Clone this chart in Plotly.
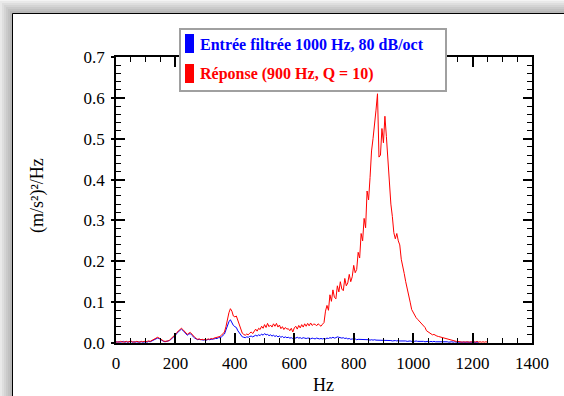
import numpy as np
import plotly.graph_objects as go

# Spectral density, sampled every 5 Hz
STEP_HZ = 5

reponse_900hz = [
    0.002, 0.003, 0.002, 0.004, 0.003, 0.002, 0.003, 0.004, 0.002, 0.003,
    0.005, 0.003, 0.002, 0.003, 0.004, 0.003, 0.002, 0.004, 0.003, 0.004,
    0.003, 0.004, 0.005, 0.004, 0.006, 0.008, 0.011, 0.013, 0.014, 0.012,
    0.009, 0.006, 0.005, 0.004, 0.004, 0.005, 0.007, 0.010, 0.013, 0.018,
    0.021, 0.026, 0.030, 0.034, 0.036, 0.033, 0.029, 0.024, 0.021, 0.024,
    0.026, 0.022, 0.017, 0.014, 0.011, 0.009, 0.010, 0.008, 0.009, 0.008,
    0.009, 0.008, 0.010, 0.009, 0.011, 0.010, 0.012, 0.013, 0.014, 0.016,
    0.016, 0.019, 0.022, 0.027, 0.040, 0.058, 0.074, 0.084, 0.078, 0.066,
    0.064, 0.066, 0.055, 0.044, 0.032, 0.024, 0.021, 0.019, 0.022, 0.020,
    0.024, 0.027, 0.023, 0.030, 0.034, 0.029, 0.036, 0.033, 0.041, 0.036,
    0.045, 0.038, 0.048, 0.040, 0.044, 0.039, 0.047, 0.041, 0.048, 0.039,
    0.044, 0.035, 0.040, 0.033, 0.038, 0.034, 0.035, 0.030, 0.036, 0.027,
    0.037, 0.041, 0.034, 0.043, 0.037, 0.045, 0.039, 0.047, 0.041, 0.048,
    0.042, 0.049, 0.043, 0.046, 0.046, 0.042, 0.047, 0.044, 0.041, 0.046,
    0.050, 0.078, 0.092, 0.080, 0.118, 0.102, 0.130, 0.112, 0.108, 0.140,
    0.125, 0.150, 0.132, 0.128, 0.158, 0.140, 0.147, 0.168, 0.150, 0.162,
    0.190, 0.172, 0.180, 0.222, 0.208, 0.268, 0.250, 0.305, 0.282, 0.372,
    0.350, 0.405, 0.470, 0.500, 0.545, 0.570, 0.610, 0.455, 0.460, 0.525,
    0.490, 0.555, 0.505, 0.450, 0.390, 0.340, 0.310, 0.270, 0.255, 0.268,
    0.250, 0.240, 0.205, 0.190, 0.170, 0.150, 0.135, 0.115, 0.100, 0.082,
    0.075, 0.068, 0.062, 0.058, 0.054, 0.050, 0.046, 0.043, 0.038, 0.030,
    0.027, 0.025, 0.022, 0.020, 0.021, 0.018, 0.017, 0.016, 0.015, 0.013,
    0.012, 0.011, 0.010, 0.009, 0.008, 0.008, 0.007, 0.006, 0.005, 0.004,
    0.004, 0.003, 0.003, 0.002, 0.003, 0.002, 0.003, 0.002, 0.002, 0.003,
    0.002, 0.003, 0.002, 0.004, 0.002, 0.003, 0.002, 0.003, 0.002, 0.003,
    0.002,
]

entree_filtree = [
    0.003, 0.002, 0.003, 0.002, 0.003, 0.004, 0.002, 0.003, 0.002, 0.003,
    0.004, 0.002, 0.003, 0.002, 0.003, 0.002, 0.003, 0.003, 0.002, 0.003,
    0.003, 0.002, 0.004, 0.003, 0.005, 0.007, 0.009, 0.011, 0.012, 0.011,
    0.008, 0.005, 0.004, 0.003, 0.004, 0.004, 0.006, 0.009, 0.012, 0.016,
    0.019, 0.024, 0.028, 0.032, 0.034, 0.031, 0.027, 0.022, 0.019, 0.022,
    0.023, 0.019, 0.015, 0.012, 0.010, 0.008, 0.009, 0.008, 0.008, 0.007,
    0.008, 0.007, 0.009, 0.008, 0.009, 0.009, 0.010, 0.011, 0.011, 0.013,
    0.013, 0.015, 0.018, 0.022, 0.032, 0.045, 0.052, 0.057, 0.050, 0.043,
    0.040, 0.038, 0.030, 0.024, 0.018, 0.015, 0.014, 0.013, 0.015, 0.014,
    0.016, 0.017, 0.015, 0.018, 0.019, 0.017, 0.020, 0.018, 0.022, 0.019,
    0.023, 0.020, 0.021, 0.018, 0.020, 0.017, 0.019, 0.016, 0.018, 0.015,
    0.017, 0.014, 0.016, 0.013, 0.015, 0.013, 0.014, 0.012, 0.013, 0.011,
    0.013, 0.012, 0.014, 0.012, 0.013, 0.011, 0.013, 0.012, 0.011, 0.012,
    0.012, 0.010, 0.012, 0.011, 0.010, 0.012, 0.011, 0.010, 0.011, 0.010,
    0.011, 0.010, 0.012, 0.011, 0.013, 0.012, 0.014, 0.012, 0.013, 0.015,
    0.014, 0.013, 0.012, 0.013, 0.011, 0.012, 0.010, 0.011, 0.009, 0.010,
    0.009, 0.010, 0.008, 0.009, 0.009, 0.008, 0.009, 0.008, 0.008, 0.009,
    0.008, 0.007, 0.008, 0.007, 0.008, 0.007, 0.007, 0.006, 0.007, 0.007,
    0.006, 0.007, 0.006, 0.006, 0.007, 0.006, 0.005, 0.006, 0.006, 0.005,
    0.006, 0.005, 0.005, 0.006, 0.005, 0.005, 0.004, 0.005, 0.005, 0.004,
    0.005, 0.004, 0.005, 0.004, 0.004, 0.005, 0.004, 0.004, 0.003, 0.004,
    0.004, 0.003, 0.004, 0.003, 0.004, 0.003, 0.003, 0.004, 0.003, 0.003,
    0.003, 0.004, 0.003, 0.003, 0.002, 0.003, 0.003, 0.002, 0.003, 0.002,
    0.002, 0.003, 0.002, 0.002, 0.003, 0.002, 0.002, 0.002, 0.003, 0.002,
    0.002, 0.002, 0.003, 0.002, 0.002,
]

freq_reponse = np.arange(len(reponse_900hz)) * STEP_HZ
freq_entree = np.arange(len(entree_filtree)) * STEP_HZ

legend_labels = ["Entrée filtrée 1000 Hz, 80 dB/oct", "Réponse (900 Hz, Q = 10)"]
x_title = "Hz"
y_title = "(m/s²)²/Hz"

SERIF = "Liberation Serif"
W_PX, H_PX = 564, 396
L, R, T, B = 116, 32, 57, 53
PW, PH = W_PX - L - R, H_PX - T - B


def px(xp):
    return (xp - L) / PW


def py(yp):
    return (T + PH - yp) / PH


fig = go.Figure()
fig.add_trace(go.Scatter(x=freq_entree, y=entree_filtree, mode="lines",
                         line=dict(color="#0000ff", width=1), name=legend_labels[0],
                         hoverinfo="skip"))
fig.add_trace(go.Scatter(x=freq_reponse, y=reponse_900hz, mode="lines",
                         line=dict(color="#ff0000", width=1), name=legend_labels[1],
                         hoverinfo="skip"))
# carrier trace for the outward tick axis on the left
fig.add_trace(go.Scatter(x=[None], y=[None], yaxis="y2", showlegend=False,
                         hoverinfo="skip"))

shapes = []
# soft drop shadow around the white panel
for i in range(1, 7):
    shapes.append(dict(type="rect", xref="paper", yref="paper",
                       x0=px(12 - 2 * i), x1=px(640), y0=py(13 - 2 * i), y1=py(460),
                       fillcolor="rgba(0,0,0,0.045)", line=dict(width=0), layer="below"))
shapes.append(dict(type="rect", xref="paper", yref="paper",
                   x0=px(12.5), x1=px(640), y0=py(13.5), y1=py(460),
                   fillcolor="white", line=dict(color="black", width=1), layer="below"))

# legend box and colour swatches
shapes.append(dict(type="rect", xref="paper", yref="paper",
                   x0=px(180), x1=px(446), y0=py(29), y1=py(91),
                   fillcolor="white", line=dict(color="#a0a0a0", width=2), layer="above"))
shapes.append(dict(type="rect", xref="paper", yref="paper",
                   x0=px(185), x1=px(194), y0=py(34), y1=py(53),
                   fillcolor="#0000ff", line=dict(width=0), layer="above"))
shapes.append(dict(type="rect", xref="paper", yref="paper",
                   x0=px(185), x1=px(194), y0=py(64), y1=py(83),
                   fillcolor="#ff0000", line=dict(width=0), layer="above"))

annotations = [
    dict(text="<b>%s</b>" % legend_labels[0], xref="paper", yref="paper",
         x=px(198), y=py(44), xanchor="left", yanchor="middle", showarrow=False,
         font=dict(family=SERIF, size=16, color="#0000ff")),
    dict(text="<b>%s</b>" % legend_labels[1], xref="paper", yref="paper",
         x=px(198), y=py(74), xanchor="left", yanchor="middle", showarrow=False,
         font=dict(family=SERIF, size=16, color="#ff0000")),
    dict(text=x_title, xref="paper", yref="paper", x=px(323), y=py(385),
         xanchor="center", yanchor="middle", showarrow=False,
         font=dict(family=SERIF, size=18, color="black")),
    dict(text=y_title, xref="paper", yref="paper", x=px(37), y=py(196),
         xanchor="center", yanchor="middle", showarrow=False, textangle=-90,
         font=dict(family=SERIF, size=18, color="black")),
]

tick_font = dict(family=SERIF, size=17, color="black")

fig.update_layout(
    width=W_PX, height=H_PX,
    margin=dict(l=L, r=R, t=T, b=B, pad=0),
    paper_bgcolor="#f4f4f4",
    plot_bgcolor="rgba(0,0,0,0)",
    showlegend=False,
    shapes=shapes,
    annotations=annotations,
    xaxis=dict(range=[0, 1400], dtick=200, tick0=0, ticks="inside", ticklen=10,
               tickwidth=1.5, tickcolor="black", mirror="ticks", showline=True,
               linecolor="black", linewidth=1.5, showgrid=False, zeroline=False,
               tickfont=tick_font, ticklabelstandoff=4,
               minor=dict(dtick=50, ticks="inside", ticklen=5, tickwidth=1.2,
                          tickcolor="black", showgrid=False)),
    yaxis=dict(range=[0, 0.7], dtick=0.1, tick0=0, tickformat=".1f", ticks="inside",
               ticklen=9, tickwidth=1.5, tickcolor="black", mirror="ticks",
               showline=True, linecolor="black", linewidth=1.5, showgrid=False,
               zeroline=False, tickfont=tick_font, ticklabelstandoff=6,
               minor=dict(dtick=0.02, ticks="inside", ticklen=5, tickwidth=1.2,
                          tickcolor="black", showgrid=False)),
    yaxis2=dict(range=[0, 0.7], dtick=0.1, tick0=0, overlaying="y", side="left",
                ticks="outside", ticklen=4, tickwidth=1.5, tickcolor="black",
                showticklabels=False, showline=False, showgrid=False, zeroline=False),
)

fig.write_html("out.html")
